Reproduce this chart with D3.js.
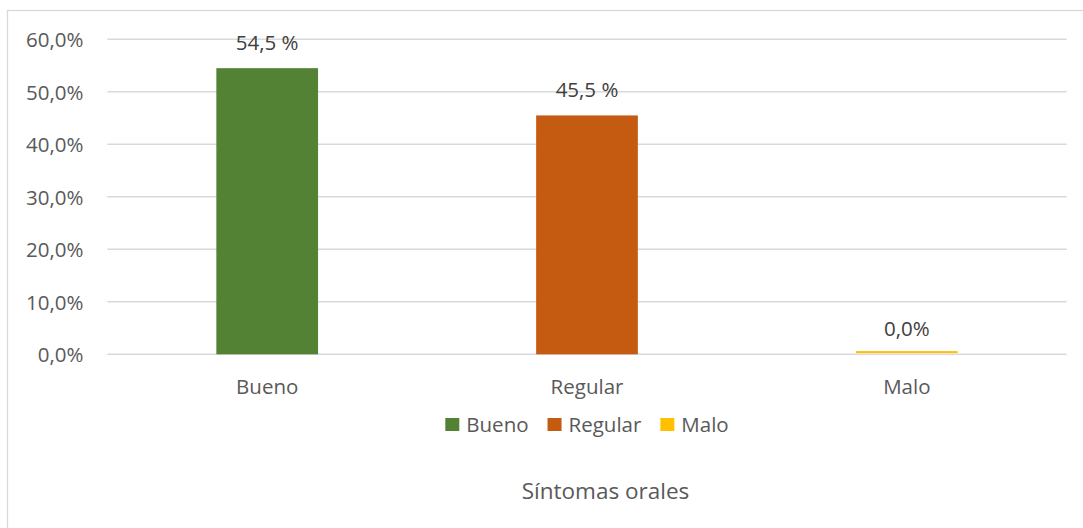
<!DOCTYPE html>
<html>
<head>
<meta charset="utf-8">
<script src="https://cdn.jsdelivr.net/npm/d3@7"></script>
<style>
  html, body { margin: 0; padding: 0; background: #fff; }
  svg { display: block; font-family: "Open Sans", "Noto Sans", sans-serif; }
</style>
</head>
<body>
<svg id="chart" width="1083" height="528"></svg>
<script>
// Chart data
const categories = ["Bueno", "Regular", "Malo"];
const values = [54.5, 45.5, 0.0];
const valueLabels = ["54,5 %", "45,5 %", "0,0%"];
const colors = ["#548235", "#C55A11", "#FFC000"];
const tickValues = [0, 10, 20, 30, 40, 50, 60];
const tickLabels = ["0,0%", "10,0%", "20,0%", "30,0%", "40,0%", "50,0%", "60,0%"];
const axisTitle = "Síntomas orales";

const svg = d3.select("#chart");
const W = 1083, H = 528;
const plot = { left: 107.3, right: 1066.7, top: 39.3, bottom: 354.3 };
const fs = 20.5;

// Chart area frame
svg.append("rect")
  .attr("x", 7.5).attr("y", 10.5)
  .attr("width", W + 10).attr("height", H + 10)
  .attr("fill", "#fff").attr("stroke", "#d9d9d9").attr("stroke-width", 1.3);

const x = d3.scaleBand()
  .domain(categories)
  .range([plot.left, plot.right])
  .paddingInner(0.682)
  .paddingOuter(0.341);

const y = d3.scaleLinear()
  .domain([0, 60])
  .range([plot.bottom, plot.top]);

// Horizontal gridlines
svg.append("g")
  .selectAll("line")
  .data(tickValues)
  .join("line")
  .attr("x1", plot.left).attr("x2", plot.right)
  .attr("y1", d => y(d)).attr("y2", d => y(d))
  .attr("stroke", "#d9d9d9").attr("stroke-width", 1.5);

// Value axis labels
const yAxis = d3.axisLeft(y)
  .tickValues(tickValues)
  .tickFormat((d, i) => tickLabels[i])
  .tickSize(0)
  .tickPadding(0);

const gy = svg.append("g")
  .attr("transform", `translate(${83.5},0)`)
  .call(yAxis);
gy.select(".domain").remove();
gy.selectAll("text")
  .attr("font-family", "'Open Sans', sans-serif")
  .attr("font-size", fs)
  .attr("fill", "#595959")
  .attr("dy", "0.36em");

// Bars (zero-valued bars still show as a thin line on the baseline)
svg.append("g")
  .selectAll("rect")
  .data(categories)
  .join("rect")
  .attr("x", d => x(d))
  .attr("width", x.bandwidth())
  .attr("y", (d, i) => {
    const h = y(0) - y(values[i]);
    return h < 2 ? y(0) - 3.2 : y(values[i]);
  })
  .attr("height", (d, i) => Math.max(2, y(0) - y(values[i])))
  .attr("fill", (d, i) => colors[i]);

// Data labels
svg.append("g")
  .selectAll("text")
  .data(categories)
  .join("text")
  .attr("x", d => x(d) + x.bandwidth() / 2)
  .attr("y", (d, i) => y(values[i]) - 18)
  .attr("text-anchor", "middle")
  .attr("font-size", fs)
  .attr("fill", "#404040")
  .text((d, i) => valueLabels[i]);

// Category axis labels
const xAxis = d3.axisBottom(x).tickSize(0).tickPadding(0);
const gx = svg.append("g")
  .attr("transform", `translate(0,${plot.bottom})`)
  .call(xAxis);
gx.select(".domain").remove();
gx.selectAll("text")
  .attr("font-family", "'Open Sans', sans-serif")
  .attr("font-size", fs)
  .attr("fill", "#595959")
  .attr("dy", null)
  .attr("y", 39.5);

// Legend
const legend = svg.append("g");
const items = legend.selectAll("g")
  .data(categories)
  .join("g");
items.append("rect")
  .attr("width", 14).attr("height", 13)
  .attr("y", -13.5)
  .attr("fill", (d, i) => colors[i]);
items.append("text")
  .attr("x", 21)
  .attr("font-size", fs)
  .attr("fill", "#595959")
  .text(d => d);
let offset = 0;
const positions = [];
items.each(function () {
  const tw = d3.select(this).select("text").node().getComputedTextLength();
  positions.push(offset);
  offset += 21 + tw + 19;
});
const totalW = offset - 19;
const legendX = (plot.left + plot.right) / 2 - totalW / 2;
items.attr("transform", (d, i) => `translate(${legendX + positions[i]},${431.5})`);

// Axis title
svg.append("text")
  .attr("x", 605.5)
  .attr("y", 499)
  .attr("text-anchor", "middle")
  .attr("font-size", 22.5)
  .attr("fill", "#595959")
  .text(axisTitle);
</script>
</body>
</html>
